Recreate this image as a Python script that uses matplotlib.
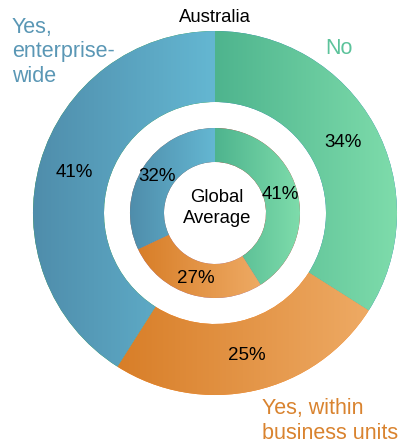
import numpy as np
import matplotlib
matplotlib.use("Agg")
import matplotlib.pyplot as plt
from matplotlib.colors import LinearSegmentedColormap

plt.rcParams['font.family'] = ['Liberation Sans', 'DejaVu Sans']

#==============================================================
#                         data
#==============================================================
categories = ['No', 'Yes, within\nbusiness units', 'Yes,\nenterprise-\nwide']
australia  = [34, 25, 41]
global_avg = [41, 27, 32]

# left (dark) / right (light) end of each wedge gradient
grad_left  = ['#4eb48e', '#d87e28', '#4f8dab']
grad_right = ['#7edcab', '#eeaa64', '#64b7d2']
label_col  = ['#5cc39b', '#d9832f', '#5a97b5']

#==============================================================
#                         figure
#==============================================================
W, H = 398, 445
fig = plt.figure(figsize=(W/100, H/100), dpi=100)
ax = fig.add_axes([0, 0, 1, 1])
ax.set_xlim(0, W); ax.set_ylim(0, H)
ax.axis('off')

cx, cy = 215, H - 213
R_out, w_out = 182, 71
R_in,  w_in  = 85, 34

def ring(vals, radius, width, pctdist):
    wedges, texts, autotexts = ax.pie(
        vals, radius=radius, center=(cx, cy), startangle=90, counterclock=False,
        autopct=lambda p: '%.0f%%' % p, pctdistance=pctdist,
        wedgeprops=dict(width=width, edgecolor='none', linewidth=0),
        textprops=dict(fontsize=13.5, color='black'), frame=True)
    for k, wdg in enumerate(wedges):
        ext = wdg.get_path().get_extents()
        cmap = LinearSegmentedColormap.from_list('g%d' % k, [grad_left[k], grad_right[k]])
        grad = np.linspace(0, 1, 256).reshape(1, -1)
        im = ax.imshow(grad, extent=[ext.x0, ext.x1, ext.y0, ext.y1], cmap=cmap,
                       aspect='auto', interpolation='bilinear', zorder=1.5)
        im.set_clip_path(wdg)
    for t in autotexts:
        t.set_zorder(3)
    return wedges

ring(australia, R_out, w_out, (R_out - w_out/2)/R_out)
ring(global_avg, R_in, w_in, (R_in - w_in/2)/R_in)

ax.set_xlim(0, W); ax.set_ylim(0, H)
ax.set_aspect('equal')
ax.axis('off')

ax.text(215, H - 18, 'Australia', fontsize=13.3, ha='center', va='center', color='black')
ax.text(217, H - 208, 'Global\nAverage', fontsize=13.3, ha='center', va='center',
        color='black', linespacing=1.25, zorder=3)

ax.text(325, H - 48, categories[0], fontsize=15.5, ha='left', va='center', color=label_col[0])
ax.text(262, H - 421, categories[1], fontsize=15.5, ha='left', va='center', color=label_col[1],
        linespacing=1.2)
ax.text(12, H - 52, categories[2], fontsize=15.5, ha='left', va='center', color=label_col[2],
        linespacing=1.2)

fig.savefig('out.png', dpi=100)
